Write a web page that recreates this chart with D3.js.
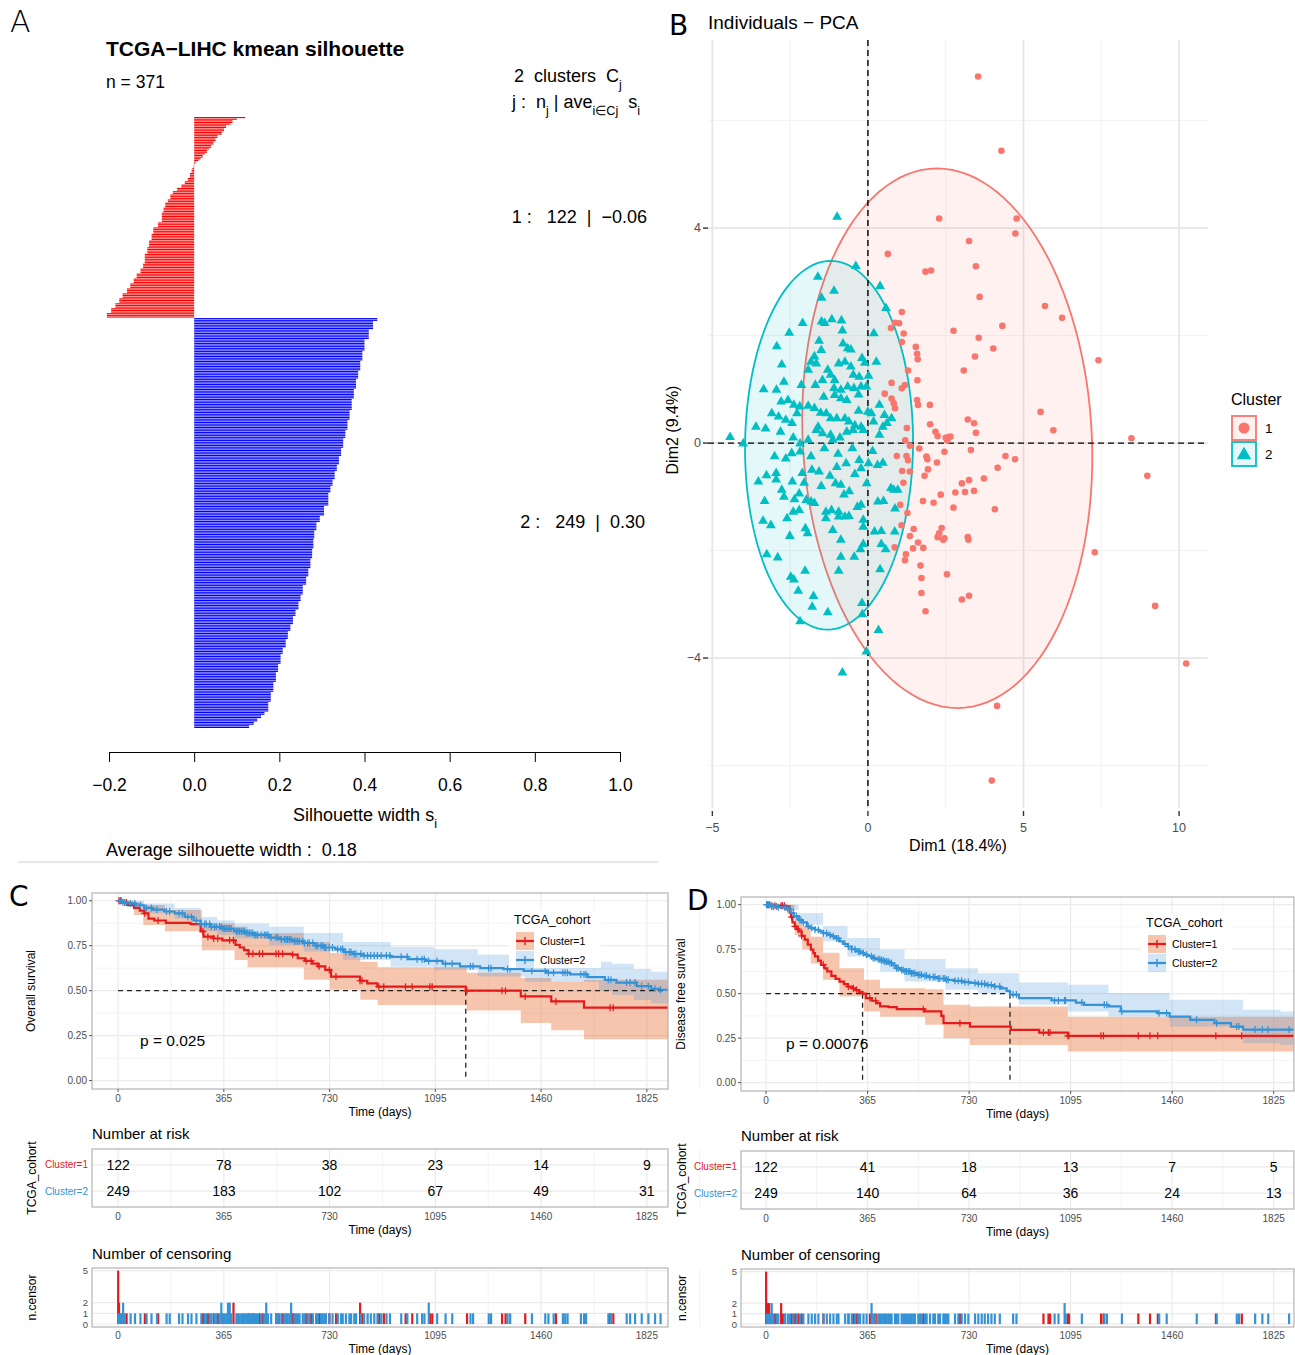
<!DOCTYPE html>
<html>
<head>
<meta charset="utf-8">
<script src="https://cdn.jsdelivr.net/npm/d3@7"></script>
<style>
body { margin: 0; background: #fff; }
text { font-family: "Liberation Sans", Arial, sans-serif; white-space: pre; }
</style>
</head>
<body>
<svg id="fig" width="1295" height="1355"></svg>
<script>
// ---------- A: silhouette widths, run length [value, count], sorted as plotted ----------
const silRuns1 = [[0.12,1],[0.10,1],[0.09,2],[0.085,1],[0.075,2],[0.07,2],[0.065,2],[0.055,2],[0.05,2],[0.045,2],[0.04,2],[0.035,1],[0.03,2],[0.025,1],[0.02,2],[0.015,1],[0.01,1],
  [0.004,1],[0.002,1],[-0.001,1],[-0.002,1],[-0.004,1],
  [-0.006,2],[-0.01,3],[-0.015,2],[-0.022,2],[-0.03,2],[-0.04,2],[-0.05,2],[-0.056,3],[-0.062,2],[-0.068,3],[-0.072,3],[-0.076,6],[-0.085,3],[-0.096,4],[-0.1,4],[-0.106,4],[-0.11,4],[-0.116,6],[-0.12,3],[-0.126,3],[-0.135,3],[-0.142,3],[-0.15,3],[-0.158,3],[-0.168,3],[-0.176,3],[-0.185,3],[-0.195,3],[-0.205,3]];
const silRuns2 = [[0.43,2],[0.42,5],[0.41,6],[0.40,7],[0.395,6],[0.39,6],[0.385,5],[0.38,6],[0.375,6],[0.37,7],[0.365,6],[0.36,6],[0.355,5],[0.35,6],[0.345,5],[0.34,5],[0.335,4],[0.33,5],[0.325,4],[0.32,4],[0.315,8],[0.305,6],[0.295,4],[0.287,5],[0.282,5],[0.28,6],[0.277,6],[0.273,6],[0.268,5],[0.263,5],[0.255,6],[0.25,4],[0.245,5],[0.238,4],[0.232,5],[0.226,4],[0.22,5],[0.215,5],[0.208,4],[0.203,6],[0.197,5],[0.192,6],[0.186,6],[0.18,6],[0.174,6],[0.165,2],[0.157,2],[0.148,2],[0.14,2],[0.129,2]];
const silTicks = [-0.2, 0, 0.2, 0.4, 0.6, 0.8, 1.0];

// ---------- B: PCA individuals [Dim1, Dim2] ----------
const pca1 = [[3.54,6.82],[4.29,5.44],[2.29,4.18],[4.78,4.18],[4.74,3.90],[3.25,3.76],[0.64,3.52],[1.85,3.19],[2.03,3.21],[3.47,3.29],[3.59,2.72],[5.69,2.55],[6.24,2.33],[4.32,2.18],[1.09,2.44],[0.87,2.24],[1.0,2.23],[0.74,2.14],[1.15,2.04],[2.75,2.09],[3.56,1.96],[4.03,1.76],[3.44,1.61],[1.09,1.88],[1.54,1.79],[1.58,1.66],[1.6,1.56],[7.41,1.54],[3.08,1.35],[1.29,1.35],[1.59,1.17],[0.76,1.12],[1.09,1.02],[1.19,1.08],[0.54,0.92],[0.76,0.83],[0.83,0.74],[0.87,0.65],[1.58,0.8],[1.61,0.71],[1.99,0.71],[5.55,0.58],[3.21,0.44],[3.41,0.37],[3.47,0.19],[2.0,0.35],[2.17,0.21],[2.24,0.13],[2.59,0.11],[2.5,0.1],[2.65,0.12],[2.55,0.05],[5.96,0.24],[8.47,0.09],[1.25,0.28],
  [0.93,-0.24],[1.24,-0.24],[1.88,-0.25],[2.46,-0.16],[3.31,-0.13],[1.29,-0.32],[1.91,-0.3],[2.22,-0.36],[4.42,-0.24],[4.73,-0.30],[1.10,-0.52],[1.35,-0.53],[1.93,-0.49],[1.82,-0.61],[4.17,-0.46],[3.73,-0.66],[8.98,-0.61],[3.02,-0.75],[3.25,-0.69],[2.81,-0.92],[3.12,-0.91],[3.41,-0.89],[1.14,-0.74],[2.34,-0.96],[1.77,-1.08],[2.11,-1.11],[1.04,-1.15],[1.27,-1.30],[2.75,-1.2],[4.08,-1.23],[1.08,-1.53],[1.47,-1.6],[2.37,-1.58],[2.29,-1.68],[2.24,-1.75],[2.46,-1.77],[2.42,-1.8],[3.21,-1.75],[3.23,-1.8],[1.35,-1.73],[1.61,-1.85],[1.45,-1.96],[1.78,-1.95],[0.86,-1.94],[7.29,-2.03],[1.22,-2.07],[1.19,-2.18],[1.69,-2.28],[1.72,-2.51],[1.72,-2.79],[1.85,-3.13],[2.54,-2.44],[3.02,-2.91],[3.25,-2.84],[9.23,-3.03],[10.23,-4.1],[4.15,-4.89],[3.98,-6.28],[1.2,0.05],[1.35,-0.05],[1.65,-0.1]];
const pca2 = [[-0.99,4.21],[-0.39,3.29],[-1.61,3.09],[-1.09,2.83],[0.39,2.92],[-1.49,2.70],[0.58,2.51],[-2.10,2.23],[-1.49,2.26],[-1.39,2.23],[-1.16,2.30],[-0.85,2.28],[-2.53,2.05],[-0.82,2.09],[0.19,2.04],[-1.57,1.90],[-2.93,1.80],[-0.80,1.85],[-0.65,1.76],[-0.55,1.74],[-1.50,1.73],[-1.72,1.61],[-1.83,1.51],[-1.92,1.36],[-1.66,1.48],[-0.19,1.58],[-0.10,1.49],[0.27,1.51],[-0.94,1.48],[-0.74,1.51],[-0.55,1.42],[-2.77,1.46],[-1.29,1.36],[-1.20,1.27],[-0.47,1.27],[-0.28,1.23],[0.02,1.25],[-2.14,1.08],[-1.46,1.17],[-1.07,1.17],[-1.69,1.08],[-3.35,1.0],[-2.94,0.99],[-2.70,1.14],[-1.09,1.02],[-0.87,0.99],[-0.65,1.05],[-0.45,1.02],[-0.22,1.05],[-0.05,1.05],[-1.42,0.86],[-1.07,0.89],[-0.87,0.83],[-0.68,0.80],[-2.79,0.77],[-2.57,0.80],[-2.38,0.71],[-1.92,0.69],[-1.72,0.65],[-1.52,0.56],[-3.09,0.55],[-2.87,0.49],[-2.64,0.43],[-2.44,0.37],[-2.28,0.55],[-2.19,0.68],[-1.34,0.55],[-1.20,0.46],[-1.00,0.46],[-0.74,0.46],[-0.61,0.40],[-0.42,0.33],[-0.22,0.30],[0.0,0.58],[0.11,0.55],[0.18,0.40],[0.37,0.71],[0.53,0.52],[0.61,0.37],[0.48,0.30],[0.76,0.46],[-3.29,0.27],[-2.81,0.21],[-4.43,0.11],[-4.01,-0.01],[-1.66,0.24],[-1.46,0.18],[-1.20,0.15],[-1.13,0.06],[-0.68,0.21],[-0.48,0.24],[-0.15,0.24],[-2.18,-0.01],[-1.92,0.06],[0.37,0.15],
  [-2.45,-0.19],[-2.18,-0.16],[-1.83,-0.25],[-0.96,-0.20],[-0.70,-0.38],[-0.28,-0.32],[0.02,-0.38],[0.31,-0.41],[0.48,-0.37],[-2.64,-0.29],[-3.52,-0.72],[-3.26,-0.60],[-2.95,-0.56],[-2.95,-0.68],[-2.43,-0.72],[-2.11,-0.56],[-2.05,-0.74],[-1.57,-0.53],[-1.22,-0.61],[-1.04,-0.75],[-0.87,-0.78],[-0.42,-0.58],[-0.22,-0.47],[-2.77,-0.87],[-2.70,-1.0],[-2.36,-1.05],[-2.21,-0.94],[-1.98,-1.06],[-3.32,-1.08],[-1.83,-1.09],[-1.72,-1.12],[-0.77,-0.96],[-0.22,-1.15],[-0.34,-1.19],[-0.04,-0.75],[0.32,-1.09],[0.50,-1.08],[0.87,-1.22],[0.83,-0.87],[0.96,-0.87],[0.74,-0.84],[-2.40,-1.28],[-2.21,-1.25],[-2.60,-1.40],[-1.35,-1.28],[-1.17,-1.25],[-0.94,-1.28],[-0.74,-1.37],[-0.61,-1.36],[-1.35,-1.40],[-0.94,-1.37],[-0.15,-1.43],[-3.37,-1.45],[-3.12,-1.53],[-2.01,-1.59],[-1.94,-1.68],[-1.13,-1.62],[-0.87,-1.80],[-0.15,-1.56],[0.21,-1.65],[0.43,-1.64],[0.86,-1.65],[-2.51,-1.73],[0.43,-1.88],[0.57,-1.98],[-0.24,-1.98],[-0.15,-1.88],[-3.25,-2.07],[-2.90,-2.13],[-0.87,-2.12],[-0.44,-2.12],[-2.48,-2.49],[-2.38,-2.54],[-2.02,-2.38],[-0.94,-2.38],[0.39,-2.35],[-2.24,-2.75],[-1.75,-2.85],[-1.79,-3.05],[-1.29,-3.15],[-2.18,-3.32],[-0.19,-2.98],[-0.18,-3.19],[0.34,-3.48],[-0.05,-3.88],[-0.82,-4.27],
  [-1.6,0.3],[-1.4,-0.1],[-0.9,0.1],[-0.5,-0.1],[-0.3,0.6],[-2.4,0.1],[-1.8,-0.5],[-0.6,-0.9],[-1.5,-0.8],[-0.3,0.9],[-1.0,-0.45],[0.15,-0.15],[-3.6,0.3],[-3.0,-0.25]];
const ellCenter = [[2.55, 0.09], [-1.25, -0.04]];
const ellRadius = [[4.65, 5.02], [2.70, 3.43]];
const ellShear = [-0.33, 0.05];

// ---------- C: overall survival ----------
const timeTicks = [0, 365, 730, 1095, 1460, 1825];
const osSteps1 = [[0,1],[20,0.99],[35,0.975],[55,0.96],[75,0.945],[90,0.93],[105,0.9],[125,0.89],[165,0.877],[250,0.87],[285,0.83],[295,0.8],[330,0.79],[360,0.78],[405,0.755],[420,0.74],[435,0.725],[450,0.705],[600,0.7],[620,0.68],[645,0.665],[670,0.65],[690,0.635],[715,0.615],[735,0.578],[835,0.555],[860,0.54],[895,0.522],[1200,0.5],[1390,0.468],[1495,0.44],[1608,0.405]];
const osSteps2 = [[0,1],[15,0.99],[30,0.985],[60,0.975],[90,0.96],[120,0.95],[160,0.94],[195,0.93],[230,0.91],[260,0.89],[285,0.87],[320,0.855],[360,0.845],[400,0.83],[440,0.82],[470,0.81],[520,0.795],[560,0.785],[600,0.775],[640,0.765],[680,0.75],[710,0.74],[750,0.73],[780,0.715],[810,0.705],[840,0.695],[940,0.688],[1000,0.675],[1060,0.665],[1120,0.65],[1180,0.635],[1250,0.625],[1330,0.62],[1400,0.61],[1480,0.6],[1560,0.59],[1620,0.575],[1680,0.56],[1720,0.545],[1790,0.525],[1840,0.51],[1870,0.505]];
const osCI1 = [[0,1,1],[20,0.97,1],[55,0.92,0.99],[87,0.865,0.976],[162,0.83,0.948],[289,0.725,0.874],[402,0.67,0.855],[447,0.63,0.82],[641,0.56,0.77],[731,0.505,0.71],[836,0.45,0.66],[896,0.42,0.63],[1203,0.39,0.6],[1390,0.32,0.57],[1495,0.28,0.55],[1608,0.23,0.56]];
const osCI2 = [[0,1,1],[30,0.97,1],[90,0.93,0.985],[195,0.9,0.96],[285,0.83,0.91],[342,0.81,0.89],[402,0.79,0.874],[521,0.754,0.855],[641,0.717,0.82],[776,0.67,0.77],[941,0.633,0.744],[1091,0.615,0.73],[1241,0.578,0.7],[1405,0.55,0.68],[1660,0.5,0.66],[1705,0.476,0.65],[1780,0.448,0.62],[1840,0.43,0.605]];
const osCens1 = [[0,5],[3,2],[8,1],[29,1],[92,1],[138,1],[293,1],[310,1],[330,1],[344,1],[385,1],[398,2],[451,1],[465,1],[488,1],[499,1],[545,1],[554,1],[568,1],[603,1],[649,1],[666,1],[694,1],[729,1],[752,1],[835,2],[842,1],[900,1],[917,1],[992,1],[1015,1],[1076,1],[1084,1],[1204,1],[1325,1],[1337,1],[1405,1],[1511,1],[1698,1],[1709,1]];
const osCens2 = [[0,1],[6,1],[12,1],[17,2],[23,1],[43,1],[58,1],[77,1],[98,1],[115,1],[134,1],[167,1],[178,1],[210,1],[222,1],[241,1],[253,1],[270,1],[287,1],[299,1],[304,1],[316,1],[322,1],[333,1],[339,1],[350,1],[356,2],[362,1],[367,1],[373,1],[379,2],[385,2],[390,1],[408,1],[413,1],[419,1],[425,1],[431,1],[436,1],[442,1],[448,1],[453,1],[459,1],[465,1],[471,1],[476,1],[482,1],[494,1],[505,1],[511,2],[517,1],[528,1],[545,1],[551,1],[563,1],[574,1],[580,1],[585,1],[591,1],[597,2],[608,1],[614,1],[620,1],[626,1],[637,1],[643,1],[654,1],[660,1],[672,1],[683,1],[689,1],[700,1],[706,1],[712,1],[717,1],[729,1],[740,1],[758,1],[769,1],[775,1],[786,1],[798,1],[804,1],[815,1],[821,1],[838,1],[849,1],[861,1],[872,1],[884,1],[895,1],[908,1],[926,1],[938,1],[977,1],[998,1],[1032,1],[1049,1],[1057,1],[1072,2],[1101,1],[1130,1],[1153,1],[1216,1],[1225,1],[1279,1],[1287,1],[1344,1],[1353,1],[1428,1],[1474,1],[1485,1],[1503,1],[1535,1],[1543,1],[1551,1],[1597,1],[1608,1],[1615,1],[1692,1],[1701,1],[1755,1],[1767,1],[1784,1],[1807,1],[1830,1],[1853,1],[1872,1]];
const osRisk1 = [122, 78, 38, 23, 14, 9];
const osRisk2 = [249, 183, 102, 67, 49, 31];
const osMedians = [1200];

// ---------- D: disease free survival ----------
const dfsSteps1 = [[0,1],[20,0.994],[70,0.99],[85,0.955],[90,0.93],[95,0.9],[103,0.878],[110,0.862],[117,0.85],[128,0.825],[139,0.803],[150,0.775],[161,0.747],[170,0.728],[176,0.709],[187,0.685],[198,0.662],[210,0.642],[220,0.625],[235,0.6],[250,0.583],[264,0.568],[280,0.553],[293,0.54],[310,0.53],[322,0.52],[335,0.51],[347,0.5],[359,0.475],[380,0.46],[396,0.447],[410,0.428],[440,0.424],[470,0.413],[570,0.4],[630,0.375],[638,0.334],[733,0.315],[880,0.296],[982,0.281],[1085,0.263]];
const dfsSteps2 = [[0,1],[15,0.99],[40,0.985],[70,0.975],[88,0.953],[100,0.935],[117,0.915],[130,0.9],[147,0.878],[160,0.87],[176,0.859],[190,0.85],[205,0.84],[220,0.83],[235,0.822],[250,0.81],[264,0.794],[278,0.78],[293,0.765],[308,0.75],[322,0.737],[340,0.728],[352,0.719],[365,0.71],[381,0.7],[395,0.693],[410,0.687],[425,0.68],[440,0.672],[455,0.658],[469,0.643],[485,0.633],[498,0.625],[520,0.615],[542,0.606],[565,0.6],[586,0.593],[615,0.585],[645,0.578],[675,0.572],[704,0.565],[735,0.56],[762,0.555],[790,0.548],[821,0.54],[845,0.53],[865,0.515],[877,0.495],[909,0.475],[1026,0.462],[1114,0.45],[1143,0.437],[1231,0.428],[1275,0.4],[1407,0.39],[1451,0.371],[1525,0.353],[1612,0.334],[1671,0.315],[1715,0.298]];
const dfsCI1 = [[0,1,1],[70,0.965,1],[103,0.83,0.934],[130,0.75,0.88],[161,0.67,0.82],[205,0.578,0.73],[264,0.484,0.643],[352,0.4,0.578],[410,0.37,0.53],[572,0.325,0.525],[638,0.25,0.437],[733,0.212,0.428],[1085,0.175,0.37]];
const dfsCI2 = [[0,1,1],[60,0.97,1],[117,0.887,0.953],[205,0.794,0.878],[293,0.709,0.812],[410,0.625,0.747],[498,0.568,0.694],[645,0.522,0.643],[762,0.503,0.615],[909,0.437,0.563],[1085,0.4,0.55],[1231,0.371,0.503],[1451,0.315,0.465],[1715,0.221,0.409],[1850,0.212,0.4]];
const dfsCens1 = [[0,5],[6,2],[11,2],[20,1],[32,1],[54,2],[59,1],[66,1],[92,1],[104,1],[116,1],[128,1],[206,1],[296,1],[314,1],[326,1],[373,1],[394,1],[565,1],[697,1],[997,1],[1015,1],[1021,1],[1085,1],[1089,1],[1204,1],[1213,1],[1338,1],[1380,1],[1408,1],[1617,1],[1710,1]];
const dfsCens2 = [[2,1],[8,1],[14,1],[20,2],[26,1],[38,1],[44,1],[68,1],[78,1],[86,1],[98,1],[110,1],[122,1],[134,1],[152,1],[164,1],[176,1],[188,1],[206,1],[218,1],[230,1],[242,1],[254,1],[260,1],[284,1],[296,1],[308,1],[320,1],[332,1],[338,1],[350,1],[361,1],[379,2],[385,1],[391,1],[403,1],[409,1],[415,1],[421,1],[427,1],[433,1],[439,1],[445,1],[451,1],[463,1],[469,1],[475,1],[487,1],[493,1],[499,1],[505,1],[511,1],[517,1],[523,1],[529,1],[535,1],[547,1],[553,1],[559,1],[571,1],[577,1],[589,1],[601,1],[607,1],[619,1],[625,1],[637,1],[643,1],[649,1],[655,1],[679,1],[691,1],[703,1],[715,1],[727,1],[751,1],[763,1],[775,1],[786,1],[798,1],[810,1],[822,1],[840,1],[888,1],[900,1],[1037,1],[1051,1],[1073,2],[1077,1],[1135,1],[1216,1],[1225,1],[1279,1],[1413,1],[1440,1],[1548,1],[1620,1],[1692,1],[1700,1],[1758,1],[1784,1],[1805,1],[1880,1]];
const dfsRisk1 = [122, 41, 18, 13, 7, 5];
const dfsRisk2 = [249, 140, 64, 36, 24, 13];
const dfsMedians = [347, 877];

const svg = d3.select("#fig");
const RED = "#E41A1C", BLUE = "#3492D6";

function label(g, x, y, txt, size, opts = {}) {
    const t = g.append("text").attr("x", x).attr("y", y).attr("font-size", size)
        .attr("fill", opts.fill || "#000").attr("text-anchor", opts.anchor || "start")
        .text(txt);
    if (opts.weight) t.attr("font-weight", opts.weight);
    if (opts.family) t.style("font-family", opts.family);
    if (opts.rotate) t.attr("transform", "rotate(-90," + x + "," + y + ")");
    return t;
}
function sub(t, main, s) {
    t.append("tspan").text(main);
    t.append("tspan").attr("baseline-shift", "sub").attr("font-size", "70%").text(s);
}

/**************** Panel A ****************/
const gA = svg.append("g");
label(gA, 10, 32, "A", 30, { family: "DejaVu Sans", weight: 300 });
label(gA, 106, 56, "TCGA\u2212LIHC kmean silhouette", 21, { weight: "bold" });
label(gA, 106, 88, "n = 371", 17.5);
let tA = label(gA, 514, 82, "", 18);
sub(tA, "2  clusters  C", "j");
tA = label(gA, 512, 108, "", 18);
sub(tA, "j :  n", "j");
tA.append("tspan").text(" | ave");
tA.append("tspan").attr("baseline-shift", "sub").attr("font-size", "70%").text("i\u2208Cj");
tA.append("tspan").text("  s");
tA.append("tspan").attr("baseline-shift", "sub").attr("font-size", "70%").text("i");

const expand = runs => runs.flatMap(([v, n]) => Array(n).fill(v));
const silData = expand(silRuns1).map(v => ({ v, c: 1 }))
    .concat(expand(silRuns2).map(v => ({ v, c: 2 })));
const silX = d3.scaleLinear().domain([-0.2, 1.0]).range([109, 620]);
const silY = d3.scaleBand().domain(d3.range(silData.length)).range([117, 728]).paddingInner(0.3);

gA.selectAll("rect.sil").data(silData).join("rect")
    .attr("class", "sil")
    .attr("x", d => silX(Math.min(0, d.v)))
    .attr("width", d => Math.abs(silX(d.v) - silX(0)))
    .attr("y", (d, i) => silY(i))
    .attr("height", silY.bandwidth())
    .attr("fill", d => d.c === 1 ? "#ff0000" : "#0000ff");

// cluster summary at the middle of each cluster
const n1 = expand(silRuns1).length;
const mid1 = (silY(0) + silY(n1 - 1)) / 2, mid2 = (silY(n1) + silY(silData.length - 1)) / 2;
label(gA, 647, mid1 + 6, "1 :   122  |  \u22120.06", 18, { anchor: "end" });
label(gA, 645, mid2 + 6, "2 :   249  |  0.30", 18, { anchor: "end" });

const axA = gA.append("g").attr("transform", "translate(0,752)")
    .call(d3.axisBottom(silX).tickValues(silTicks).tickFormat(d3.format(".1f")).tickSize(10).tickSizeOuter(0));
axA.selectAll("text").attr("font-size", 17.5).attr("y", 27).attr("fill", "#000");
axA.selectAll("line, path").attr("stroke", "#000");
tA = label(gA, 365, 821, "", 18, { anchor: "middle" });
sub(tA, "Silhouette width s", "i");
label(gA, 106, 856, "Average silhouette width :  0.18", 18);
gA.append("line").attr("x1", 18).attr("x2", 658).attr("y1", 862).attr("y2", 862)
    .attr("stroke", "#cfcfcf").attr("stroke-width", 1.2);

/**************** Panel B ****************/
const gB = svg.append("g");
label(gB, 669, 35, "B", 28, { family: "DejaVu Sans" });
label(gB, 708, 29, "Individuals \u2212 PCA", 19);
const px = d3.scaleLinear().domain([-5.14, 10.93]).range([708, 1208]);
const py = d3.scaleLinear().domain([-6.79, 7.5]).range([808, 40]);

[-2.5, 2.5, 7.5].forEach(v => gB.append("line").attr("x1", px(v)).attr("x2", px(v)).attr("y1", 40).attr("y2", 808).attr("stroke", "#f2f2f2").attr("stroke-width", 1));
[-6, -2, 2, 6].forEach(v => gB.append("line").attr("y1", py(v)).attr("y2", py(v)).attr("x1", 708).attr("x2", 1208).attr("stroke", "#f2f2f2").attr("stroke-width", 1));
[-5, 0, 5, 10].forEach(v => gB.append("line").attr("x1", px(v)).attr("x2", px(v)).attr("y1", 40).attr("y2", 808).attr("stroke", "#e6e6e6").attr("stroke-width", 1.8));
[-4, 0, 4].forEach(v => gB.append("line").attr("y1", py(v)).attr("y2", py(v)).attr("x1", 708).attr("x2", 1208).attr("stroke", "#e6e6e6").attr("stroke-width", 1.8));

// concentration ellipses
const ellCols = ["#F8766D", "#00BFC4"];
const ellLine = d3.line().x(d => px(d[0])).y(d => py(d[1]));
ellCenter.forEach((c, k) => {
    const pts = d3.range(0, 361, 3).map(a => {
        const t = a * Math.PI / 180;
        return [c[0] + ellRadius[k][0] * Math.cos(t) + ellShear[k] * Math.sin(t), c[1] + ellRadius[k][1] * Math.sin(t)];
    });
    gB.append("path").attr("d", ellLine(pts) + "Z")
        .attr("fill", ellCols[k]).attr("fill-opacity", 0.1)
        .attr("stroke", ellCols[k]).attr("stroke-width", 1.8);
});

// reference lines
gB.append("line").attr("x1", px(0)).attr("x2", px(0)).attr("y1", 40).attr("y2", 808)
    .attr("stroke", "#000").attr("stroke-dasharray", "6,4").attr("stroke-width", 1.4);
gB.append("line").attr("y1", py(0)).attr("y2", py(0)).attr("x1", 708).attr("x2", 1208)
    .attr("stroke", "#000").attr("stroke-dasharray", "6,4").attr("stroke-width", 1.4);

gB.selectAll("circle.p1").data(pca1).join("circle").attr("class", "p1")
    .attr("cx", d => px(d[0])).attr("cy", d => py(d[1])).attr("r", 3.3).attr("fill", "#F8766D");
const tri = d3.symbol(d3.symbolTriangle, 42);
gB.selectAll("path.p2").data(pca2).join("path").attr("class", "p2")
    .attr("d", tri).attr("transform", d => "translate(" + px(d[0]) + "," + py(d[1]) + ")")
    .attr("fill", "#00BFC4");

// ticks
[-5, 0, 5, 10].forEach(v => {
    gB.append("line").attr("x1", px(v)).attr("x2", px(v)).attr("y1", 811).attr("y2", 816).attr("stroke", "#333").attr("stroke-width", 1.4);
    label(gB, px(v), 832, d3.format("")(v).replace("-", "\u2212"), 12.5, { anchor: "middle", fill: "#4d4d4d" });
});
[-4, 0, 4].forEach(v => {
    gB.append("line").attr("x1", 703).attr("x2", 708).attr("y1", py(v)).attr("y2", py(v)).attr("stroke", "#333").attr("stroke-width", 1.4);
    label(gB, 701, py(v) + 4, d3.format("")(v).replace("-", "\u2212"), 12.5, { anchor: "end", fill: "#4d4d4d" });
});
label(gB, 958, 851, "Dim1 (18.4%)", 16, { anchor: "middle" });
label(gB, 678, 430, "Dim2 (9.4%)", 16, { anchor: "middle", rotate: true });

// legend
label(gB, 1231, 405, "Cluster", 16);
[["1", "#F8766D"], ["2", "#00BFC4"]].forEach(([name, col], k) => {
    const y0 = 416 + k * 26;
    gB.append("rect").attr("x", 1232).attr("y", y0).attr("width", 24).attr("height", 24)
        .attr("fill", col).attr("fill-opacity", 0.1).attr("stroke", col).attr("stroke-width", 1.8);
    if (k === 0) gB.append("circle").attr("cx", 1244).attr("cy", y0 + 12).attr("r", 5.5).attr("fill", col);
    else gB.append("path").attr("d", d3.symbol(d3.symbolTriangle, 90)).attr("transform", "translate(1244," + (y0 + 13) + ")").attr("fill", col);
    label(gB, 1265, y0 + 17, name, 13.5);
});

/**************** Panels C & D ****************/
function survAt(steps, t) {
    let s = 1;
    for (const [tt, v] of steps) { if (tt <= t) s = v; else break; }
    return s;
}

function drawKM(cfg) {
    const g = svg.append("g");
    const x = d3.scaleLinear().domain([-90, 1898]).range([cfg.left, cfg.right]);
    const y = d3.scaleLinear().domain([-0.047, 1.043]).range([cfg.bottom, cfg.top]);
    const xEnd = x.domain()[1];
    const grey = "#4d4d4d";

    label(g, cfg.letterX, cfg.top + 13, cfg.letter, 28, { family: "DejaVu Sans" });

    // grid
    const gridX = (gg, top, bottom) => {
        timeTicks.forEach(t => gg.append("line").attr("x1", x(t + 182.5)).attr("x2", x(t + 182.5)).attr("y1", top).attr("y2", bottom).attr("stroke", "#f3f3f3"));
        timeTicks.forEach(t => gg.append("line").attr("x1", x(t)).attr("x2", x(t)).attr("y1", top).attr("y2", bottom).attr("stroke", "#ebebeb").attr("stroke-width", 1.2));
    };
    gridX(g, cfg.top, cfg.bottom);
    [0.125, 0.375, 0.625, 0.875].forEach(v => g.append("line").attr("x1", cfg.left).attr("x2", cfg.right).attr("y1", y(v)).attr("y2", y(v)).attr("stroke", "#f3f3f3"));
    [0, 0.25, 0.5, 0.75, 1].forEach(v => g.append("line").attr("x1", cfg.left).attr("x2", cfg.right).attr("y1", y(v)).attr("y2", y(v)).attr("stroke", "#ebebeb").attr("stroke-width", 1.2));

    // confidence bands
    const band = d3.area().curve(d3.curveStepAfter).x(d => x(d[0])).y0(d => y(d[1])).y1(d => y(d[2]));
    [[cfg.ci1, "rgba(232,110,50,0.4)"], [cfg.ci2, "rgba(70,150,220,0.25)"]].forEach(([ci, fill]) => {
        const last = ci[ci.length - 1];
        g.append("path").attr("d", band(ci.concat([[xEnd, last[1], last[2]]]))).attr("fill", fill);
    });

    // median lines
    const dash = { stroke: "#222", "stroke-dasharray": "5,4", "stroke-width": 1.3 };
    const hEnd = cfg.medianFull ? cfg.right : x(d3.max(cfg.medians));
    let l = g.append("line").attr("x1", x(0)).attr("x2", hEnd).attr("y1", y(0.5)).attr("y2", y(0.5));
    Object.entries(dash).forEach(([k, v]) => l.attr(k, v));
    cfg.medians.forEach(m => {
        l = g.append("line").attr("x1", x(m)).attr("x2", x(m)).attr("y1", y(0.5)).attr("y2", y(0));
        Object.entries(dash).forEach(([k, v]) => l.attr(k, v));
    });

    // curves + censor marks
    const step = d3.line().curve(d3.curveStepAfter).x(d => x(d[0])).y(d => y(d[1]));
    [[cfg.s1, cfg.c1, RED], [cfg.s2, cfg.c2, BLUE]].forEach(([s, cens, col]) => {
        const last = s[s.length - 1];
        g.append("path").attr("d", step(s.concat([[xEnd, last[1]]])))
            .attr("fill", "none").attr("stroke", col).attr("stroke-width", 2.2);
        g.selectAll(null).data(cens.filter(d => d[0] > 0)).join("path")
            .attr("d", "M-3.5,0H3.5M0,-3.5V3.5")
            .attr("transform", d => "translate(" + x(d[0]) + "," + y(survAt(s, d[0])) + ")")
            .attr("stroke", col).attr("stroke-width", 1.2);
    });

    g.append("rect").attr("x", cfg.left).attr("y", cfg.top).attr("width", cfg.right - cfg.left).attr("height", cfg.bottom - cfg.top)
        .attr("fill", "none").attr("stroke", "#b3b3b3").attr("stroke-width", 1.2);

    // axes text
    [0, 0.25, 0.5, 0.75, 1].forEach(v => {
        g.append("line").attr("x1", cfg.left - 3).attr("x2", cfg.left).attr("y1", y(v)).attr("y2", y(v)).attr("stroke", "#555");
        label(g, cfg.left - 5, y(v) + 3.5, d3.format(".2f")(v), 10, { anchor: "end", fill: grey });
    });
    const xTicks = (yy) => timeTicks.forEach(t => label(g, x(t), yy, String(t), 10, { anchor: "middle", fill: grey }));
    timeTicks.forEach(t => g.append("line").attr("x1", x(t)).attr("x2", x(t)).attr("y1", cfg.bottom).attr("y2", cfg.bottom + 3).attr("stroke", "#555"));
    xTicks(cfg.bottom + 13);
    label(g, (cfg.left + cfg.right) / 2, cfg.bottom + 27, "Time (days)", 12, { anchor: "middle" });
    label(g, cfg.yTitleX, (cfg.top + cfg.bottom) / 2, cfg.yTitle, 12, { anchor: "middle", rotate: true });
    label(g, cfg.pX, y(0.19), cfg.pText, 15.5);

    // legend
    const lg = g.append("g");
    lg.append("rect").attr("x", cfg.legX - 7).attr("y", cfg.legY - 14).attr("width", 92).attr("height", 58).attr("fill", "#fff");
    label(lg, cfg.legX - 2, cfg.legY, "TCGA_cohort", 12.5);
    [["Cluster=1", RED, "rgba(232,110,50,0.4)"], ["Cluster=2", BLUE, "rgba(70,150,220,0.25)"]].forEach(([name, col, fill], k) => {
        const ky = cfg.legY + 8 + k * 19;
        lg.append("rect").attr("x", cfg.legX).attr("y", ky).attr("width", 18).attr("height", 18).attr("fill", fill);
        lg.append("line").attr("x1", cfg.legX).attr("x2", cfg.legX + 18).attr("y1", ky + 9).attr("y2", ky + 9).attr("stroke", col).attr("stroke-width", 2.2);
        lg.append("line").attr("x1", cfg.legX + 9).attr("x2", cfg.legX + 9).attr("y1", ky + 5).attr("y2", ky + 13).attr("stroke", col).attr("stroke-width", 1.4);
        label(lg, cfg.legX + 24, ky + 12.5, name, 10.5);
    });

    // number at risk
    const ry = d3.scalePoint().domain(["Cluster=1", "Cluster=2"]).range([cfg.tTop, cfg.tBottom]).padding(0.6);
    label(g, cfg.left, cfg.tTop - 10, "Number at risk", 15);
    gridX(g, cfg.tTop, cfg.tBottom);
    ry.domain().forEach(r => g.append("line").attr("x1", cfg.left).attr("x2", cfg.right).attr("y1", ry(r)).attr("y2", ry(r)).attr("stroke", "#ebebeb").attr("stroke-width", 1.2));
    g.append("rect").attr("x", cfg.left).attr("y", cfg.tTop).attr("width", cfg.right - cfg.left).attr("height", cfg.tBottom - cfg.tTop)
        .attr("fill", "none").attr("stroke", "#b3b3b3").attr("stroke-width", 1.2);
    [[cfg.r1, "Cluster=1", RED], [cfg.r2, "Cluster=2", BLUE]].forEach(([vals, name, col]) => {
        vals.forEach((v, i) => label(g, x(timeTicks[i]), ry(name) + 5, String(v), 14, { anchor: "middle" }));
        label(g, cfg.left - 4, ry(name) + 3.5, name, 10, { anchor: "end", fill: col });
    });
    xTicks(cfg.tBottom + 13);
    label(g, (cfg.left + cfg.right) / 2, cfg.tBottom + 27, "Time (days)", 12, { anchor: "middle" });
    label(g, cfg.yTitleX + 1, (cfg.tTop + cfg.tBottom) / 2, "TCGA_cohort", 12, { anchor: "middle", rotate: true });

    // number of censoring
    const cy = d3.scaleLinear().domain([-0.28, 5.25]).range([cfg.cBottom, cfg.cTop]);
    label(g, cfg.left, cfg.cTop - 9, "Number of censoring", 15);
    gridX(g, cfg.cTop, cfg.cBottom);
    [0, 1, 2, 5].forEach(v => g.append("line").attr("x1", cfg.left).attr("x2", cfg.right).attr("y1", cy(v)).attr("y2", cy(v)).attr("stroke", "#ebebeb").attr("stroke-width", 1.2));
    [[cfg.c1, RED], [cfg.c2, BLUE]].forEach(([cens, col]) => {
        g.selectAll(null).data(cens).join("rect")
            .attr("x", d => x(d[0]) - 1).attr("width", 2.2)
            .attr("y", d => cy(d[1])).attr("height", d => cy(0) - cy(d[1]))
            .attr("fill", col);
    });
    g.append("rect").attr("x", cfg.left).attr("y", cfg.cTop).attr("width", cfg.right - cfg.left).attr("height", cfg.cBottom - cfg.cTop)
        .attr("fill", "none").attr("stroke", "#b3b3b3").attr("stroke-width", 1.2);
    [0, 1, 2, 5].forEach(v => label(g, cfg.left - 4, cy(v) + 3.5, String(v), 9.5, { anchor: "end", fill: grey }));
    xTicks(cfg.cBottom + 12);
    label(g, (cfg.left + cfg.right) / 2, cfg.cBottom + 26, "Time (days)", 12, { anchor: "middle" });
    label(g, cfg.yTitleX + 1, (cfg.cTop + cfg.cBottom) / 2, "n.censor", 12, { anchor: "middle", rotate: true });
}

drawKM({
    letter: "C", letterX: 9, left: 92, right: 668, top: 893, bottom: 1089,
    tTop: 1149, tBottom: 1207, cTop: 1268, cBottom: 1327,
    s1: osSteps1, s2: osSteps2, ci1: osCI1, ci2: osCI2, c1: osCens1, c2: osCens2,
    r1: osRisk1, r2: osRisk2, medians: osMedians, medianFull: true,
    yTitle: "Overall survival", yTitleX: 35, pText: "p = 0.025", pX: 140,
    legX: 516, legY: 924
});
drawKM({
    letter: "D", letterX: 687, left: 741, right: 1294, top: 897, bottom: 1091,
    tTop: 1151, tBottom: 1209, cTop: 1269, cBottom: 1327,
    s1: dfsSteps1, s2: dfsSteps2, ci1: dfsCI1, ci2: dfsCI2, c1: dfsCens1, c2: dfsCens2,
    r1: dfsRisk1, r2: dfsRisk2, medians: dfsMedians, medianFull: false,
    yTitle: "Disease free survival", yTitleX: 685, pText: "p = 0.00076", pX: 786,
    legX: 1148, legY: 927
});
</script>
</body>
</html>
